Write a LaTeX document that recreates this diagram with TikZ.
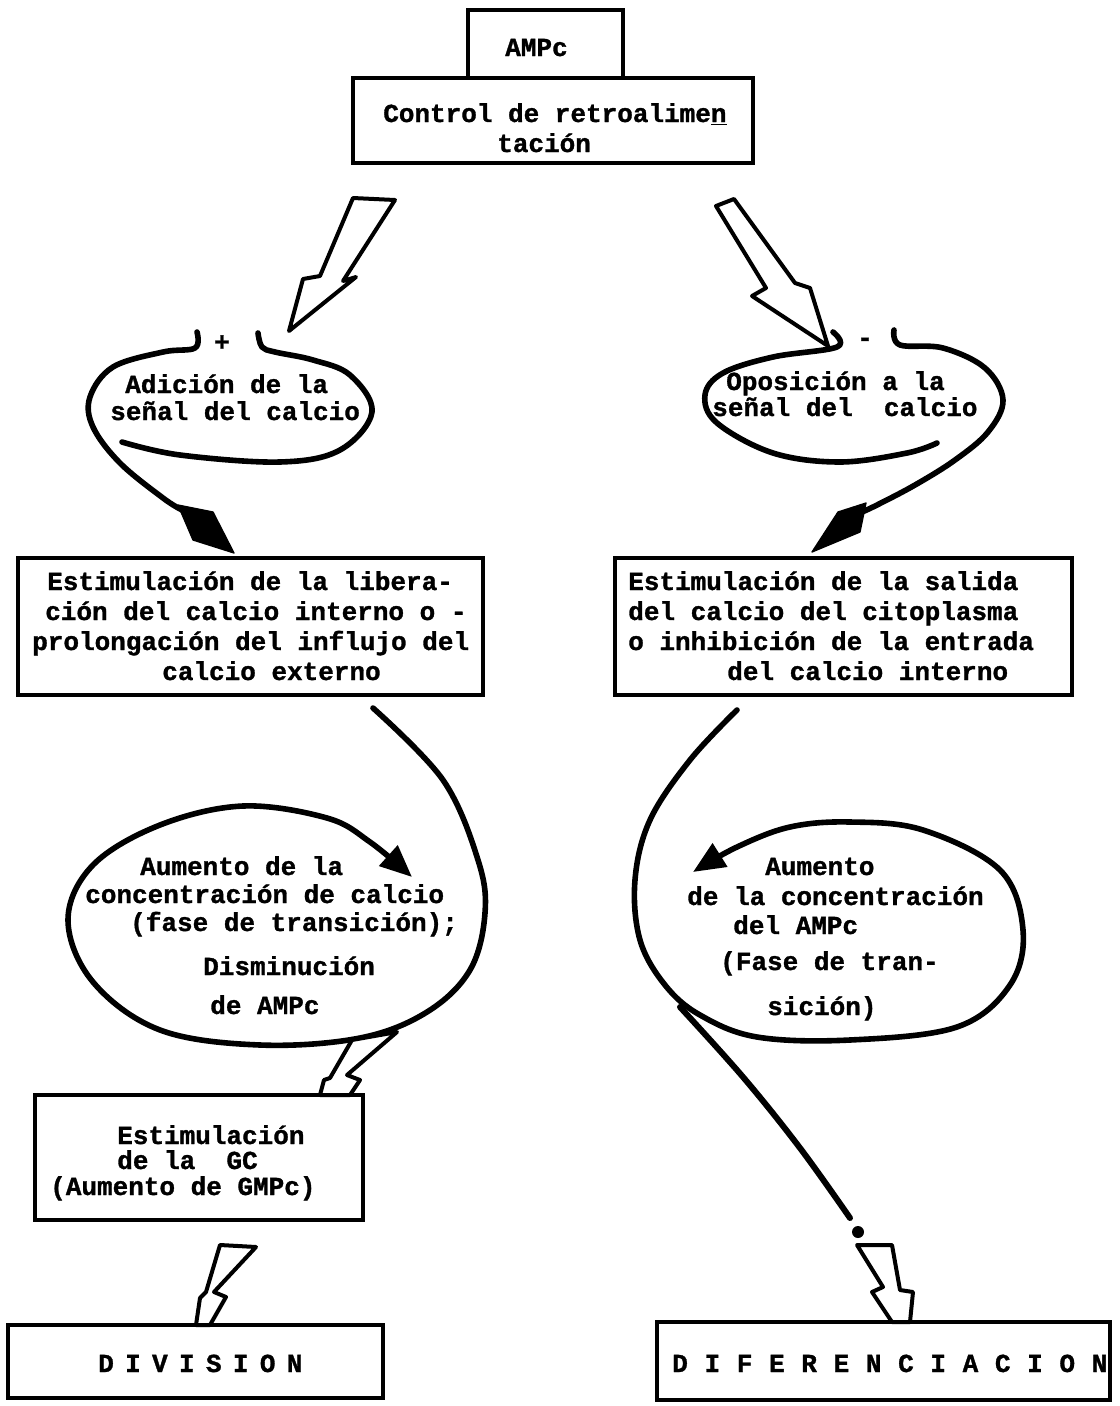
\documentclass[tikz,border=0pt]{standalone}
\usepackage{fontspec}
\setmainfont{Liberation Mono}[BoldFeatures={FakeBold=1.2}]
\usetikzlibrary{arrows.meta}
\begin{document}
\begin{tikzpicture}[x=0.75pt,y=-0.75pt,
  txt/.style={font=\fontsize{19.5}{22}\selectfont\bfseries, inner sep=0pt, anchor=base west},
  box/.style={draw, line width=2.4pt, inner sep=0pt, outer sep=0pt},
  curl/.style={line width=4.2pt, line cap=round, line join=round},
  bolt/.style={draw, line width=3pt, line join=round, fill=white},
  kite/.style={fill=black, draw=black, line width=1pt, line join=round},
  tip/.style={-{Triangle[length=24pt,width=20pt]}}]
\useasboundingbox (0,0) rectangle (1120,1406);

% ---------- boxes ----------
\draw[line width=2.4pt] (468,79) -- (468,10) -- (623,10) -- (623,79);
\node[txt] (ampc) at (505,56) {AMPc};
\node[box, minimum width=300pt, minimum height=63.75pt] (ctrl) at (553,120.5) {};
\node[txt] (ctrla) at (383,122) {Control de retroalime\underline{n}};
\node[txt] (ctrlb) at (497,152) {tación};

\node[box, minimum width=348.75pt, minimum height=102.75pt] (bL) at (250.5,626.5) {};
\node[txt] (bL1) at (47,590) {Estimulación de la libera-};
\node[txt] (bL2) at (45,620) {ción del calcio interno o -};
\node[txt] (bL3) at (32,650) {prolongación del influjo del};
\node[txt] (bL4) at (162,680) {calcio externo};

\node[box, minimum width=342.75pt, minimum height=102.75pt] (bR) at (843.5,626.5) {};
\node[txt] (bR1) at (628,590) {Estimulación de la salida};
\node[txt] (bR2) at (628,620) {del calcio del citoplasma};
\node[txt] (bR3) at (628,650) {o inhibición de la entrada};
\node[txt] (bR4) at (727,680) {del calcio interno};

\node[box, minimum width=246pt, minimum height=93.75pt] (gc) at (199,1157.5) {};
\node[txt] (gc1) at (117,1144) {Estimulación};
\node[txt] (gc2) at (117,1169) {de la~ GC};
\node[txt] (gc3) at (50,1195) {(Aumento de GMPc)};

\node[box, minimum width=281.25pt, minimum height=54.75pt] (div) at (195.5,1361.5) {};
\node[txt] (divt) at (98,1372) {\spaceskip=8.5pt D I V I S I O N};

\node[box, minimum width=339.75pt, minimum height=58.5pt] (dif) at (883.5,1361) {};
\node[txt] (dift) at (672,1372) {\spaceskip=12.5pt D I F E R E N C I A C I O N};

% ---------- upper ellipses ----------
\node[txt] (eL1) at (125,393) {Adición de la};
\node[txt] (eL2) at (110,420) {señal del calcio};
\node[txt, anchor=center] (plus) at (222,343) {+};
\draw[curl] plot[smooth, tension=0.6] coordinates {(122,442) (180,455) (280,462) (340,450) (372,412) (350,375) (313,360) (275,352) (262,347) (258,333)};
\draw[curl] plot[smooth, tension=0.6] coordinates {(197,332) (195,348) (163,352) (113,367) (90,397) (93,427) (120,463) (163,498) (182,510)};
\fill[kite] (178,505) -- (213,512) -- (234,553) -- (193,540) -- cycle;

\node[txt] (eR1) at (726,390) {Oposición a la};
\node[txt] (eR2) at (712,416) {señal del~ calcio};
\node[txt, anchor=center] (minus) at (865,342) {-};
\draw[curl] plot[smooth, tension=0.6] coordinates {(833,332) (837,347) (773,357) (723,373) (705,395) (717,423) (773,453) (840,462) (907,453) (937,443)};
\draw[curl] plot[smooth, tension=0.6] coordinates {(894,330) (900,345) (943,348) (985,368) (1003,400) (988,432) (955,460) (915,485) (877,505) (862,512)};
\fill[kite] (866,503) -- (838,512) -- (812,552) -- (860,532) -- cycle;

% ---------- top lightning arrows ----------
\path[bolt] (353,198) -- (395,200) -- (343,281) -- (356,277) -- (289,331) -- (303,279) -- (320,276) -- cycle;
\path[bolt] (716,206) -- (734,199) -- (795,283) -- (810,288) -- (828,346) -- (752,296) -- (766,288) -- cycle;

% ---------- lower loops ----------
\node[txt] (lL1) at (140,875) {Aumento de la};
\node[txt] (lL2) at (85,903) {concentración de calcio};
\node[txt] (lL3) at (130,931) {(fase de transición);};
\node[txt] (lL4) at (203,975) {Disminución};
\node[txt] (lL5) at (210,1014) {de AMPc};
\draw[curl, tip] plot[smooth, tension=0.6] coordinates {(373,708) (443,780) (478,860) (485,913) (470,970) (427,1012) (360,1038) (260,1045) (160,1030) (93,982) (68,920) (93,865) (160,825) (243,806) (327,818) (370,842) (412,877)};

\node[txt] (lR1) at (765,875) {Aumento};
\node[txt] (lR2) at (687,905) {de la concentración};
\node[txt] (lR3) at (733,934) {del AMPc};
\node[txt] (lR4) at (720,970) {(Fase de tran-};
\node[txt] (lR5) at (767,1015) {sición)};
\draw[curl, tip] plot[smooth, tension=0.6] coordinates {(737,710) (690,760) (650,820) (635,880) (640,940) (665,985) (700,1015) (757,1037) (850,1040) (957,1027) (1010,985) (1023,930) (1000,870) (923,830) (850,822) (790,827) (737,847) (693,872)};
\draw[line width=4.5pt, line cap=round] plot[smooth, tension=0.6] coordinates {(680,1007) (743,1077) (800,1148) (850,1218)};
\fill (858,1232) circle[radius=4.5pt];

% ---------- lower lightning arrows ----------
\path[bolt] (352,1040) -- (397,1032) -- (347,1075) -- (360,1080) -- (350,1095) -- (320,1095) -- (324,1080) -- (330,1078) -- cycle;
\path[bolt] (220,1245) -- (256,1247) -- (214,1292) -- (226,1297) -- (210,1325) -- (196,1325) -- (200,1298) -- (206,1292) -- cycle;
\path[bolt] (857,1245) -- (892,1245) -- (900,1290) -- (913,1292) -- (910,1322) -- (892,1322) -- (872,1292) -- (883,1287) -- cycle;
\end{tikzpicture}
\end{document}
